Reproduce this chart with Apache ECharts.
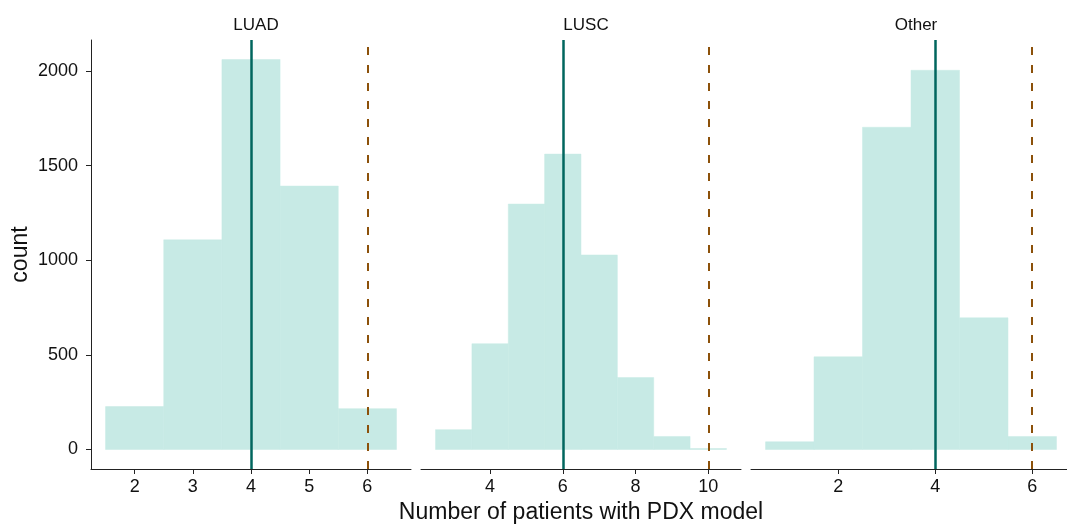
<!DOCTYPE html>
<html>
<head>
<meta charset="utf-8">
<script src="https://cdn.jsdelivr.net/npm/echarts@6/dist/echarts.min.js"></script>
<style>
  html, body { margin: 0; padding: 0; background: #fff; }
  #chart { width: 1067px; height: 531px; }
</style>
</head>
<body>
<div id="chart"></div>
<script>
// facet names
const panels = ['LUAD', 'LUSC', 'Other']

// histogram bins (bin centres, width 1) and counts per facet
const luadBins = [2, 3, 4, 5, 6]
const luadCounts = [227, 1108, 2061, 1392, 216]
const luscBins = [3, 4, 5, 6, 7, 8, 9, 10]
const luscCounts = [105, 559, 1297, 1561, 1028, 380, 69, 5]
const otherBins = [1, 2, 3, 4, 5, 6]
const otherCounts = [41, 490, 1703, 2004, 696, 69]

// vertical reference lines
const medians = [4, 6, 4]
const cutoffs = [6, 10, 6]

// tick labels
const xTicks = [[2, 3, 4, 5, 6], [4, 6, 8, 10], [2, 4, 6]]
const yTicks = [0, 500, 1000, 1500, 2000]

const binWidth = 1
const allBins = [luadBins, luscBins, otherBins]
const allCounts = [luadCounts, luscCounts, otherCounts]

// axis limits (ggplot style 5% expansion)
const xRanges = [[1.25, 6.75], [2.1, 10.9], [0.2, 6.8]]
const yRange = [-103, 2164]

const font = 'Liberation Sans, Arial, Helvetica, sans-serif'
const fill = '#c7eae5'
const teal = '#01665e'
const brown = '#8c510a'

const chart = echarts.init(document.getElementById('chart'))

const gridLefts = [91, 421, 751]
const grids = gridLefts.map(l => ({
  left: l, width: 320, top: 40, bottom: 62,
  containLabel: false, outerBoundsMode: 'none'
}))

const xAxes = panels.map((p, i) => ({
  type: 'value',
  gridIndex: i,
  min: xRanges[i][0],
  max: xRanges[i][1],
  splitLine: { show: false },
  axisLine: { show: true, onZero: false, lineStyle: { color: '#222', width: 1 } },
  axisTick: { show: true, length: 5, customValues: xTicks[i], lineStyle: { color: '#222' } },
  axisLabel: { customValues: xTicks[i], color: '#111', fontSize: 18, fontFamily: font, margin: 9 },
  name: i === 1 ? 'Number of patients with PDX model' : '',
  nameLocation: 'middle',
  nameGap: 32,
  nameTextStyle: { fontSize: 23, color: '#111', fontFamily: font }
}))

const yAxes = panels.map((p, i) => ({
  type: 'value',
  gridIndex: i,
  min: yRange[0],
  max: yRange[1],
  splitLine: { show: false },
  axisLine: { show: i === 0, onZero: false, lineStyle: { color: '#222', width: 1 } },
  axisTick: { show: i === 0, length: 5, customValues: yTicks, lineStyle: { color: '#222' } },
  axisLabel: {
    show: i === 0, customValues: yTicks, formatter: v => String(v),
    color: '#111', fontSize: 18, fontFamily: font, margin: 13
  },
  name: i === 0 ? 'count' : '',
  nameLocation: 'middle',
  nameGap: 59,
  nameTextStyle: { fontSize: 23, color: '#111', fontFamily: font }
}))

const series = panels.map((p, i) => ({
  type: 'custom',
  xAxisIndex: i,
  yAxisIndex: i,
  data: allBins[i].map((c, k) => [c - binWidth / 2, c + binWidth / 2, allCounts[i][k]]),
  renderItem: (params, api) => {
    const p0 = api.coord([api.value(0), api.value(2)])
    const p1 = api.coord([api.value(1), 0])
    return {
      type: 'rect',
      shape: { x: p0[0], y: p0[1], width: p1[0] - p0[0], height: p1[1] - p0[1] },
      style: { fill: fill, stroke: fill, lineWidth: 0.5 }
    }
  },
  markLine: {
    silent: true,
    symbol: 'none',
    label: { show: false },
    data: [
      { xAxis: medians[i], lineStyle: { color: teal, width: 2.5, type: 'solid' } },
      { xAxis: cutoffs[i], lineStyle: { color: brown, width: 2, type: [8, 10] } }
    ]
  }
}))

const titles = panels.map((p, i) => ({
  text: p,
  left: gridLefts[i] + 160,
  top: 12,
  textAlign: 'center',
  textStyle: { fontSize: 17, fontWeight: 'normal', color: '#111', fontFamily: font }
}))

chart.setOption({
  animation: false,
  title: titles,
  grid: grids,
  xAxis: xAxes,
  yAxis: yAxes,
  series: series
})
</script>
</body>
</html>
